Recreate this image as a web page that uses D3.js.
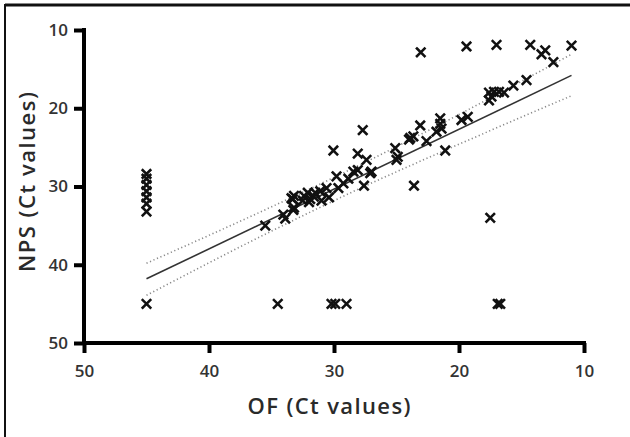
<!DOCTYPE html>
<html><head><meta charset="utf-8">
<script src="https://cdn.jsdelivr.net/npm/d3@7"></script>
<style>
html,body{margin:0;padding:0;background:#fff;}
svg{display:block;}
text{font-family:"Open Sans",sans-serif;}
</style></head>
<body><svg id="c" width="630" height="437"></svg>
<script>
// Scatter points: OF Ct (x) and NPS Ct (y)
const ofCt = [
 45,45,45,45,45,45,45, 45,
 34.5,30.2,29.9,29.0,16.9,16.7,
 17.5,23.6,27.6,21.1,30.05,27.7,
 23.06,19.4,17.0,14.3,13.4,13.1,12.45,11.0,14.6,15.65,
 17.6,17.2,16.8,16.4,17.6,17.4,
 19.3,19.8,21.5,21.5,21.4,21.8,23.1,23.65,24.0,22.6,23.9,
 25.1,24.9,25.0,28.1,27.4,
 28.45,28.1,27.0,27.1,28.85,29.8,29.25,29.65,
 30.6,31.1,31.5,32.1,32.4,32.5,31.9,33.2,33.2,33.3,30.4,31.0,32.0,31.6,
 35.5,34.05,33.9,33.25,33.4
];
const npsCt = [
 28.4,29.0,29.8,30.6,31.4,32.2,33.2, 45,
 45,45,45,45,45,45,
 34.0,29.9,29.9,25.4,25.4,22.8,
 12.85,12.1,11.9,11.9,13.1,12.6,14.1,12.0,16.4,17.1,
 18.0,17.9,17.9,18.0,19.0,18.5,
 21.1,21.5,21.3,22.0,22.6,23.0,22.2,23.6,24.0,24.2,23.8,
 25.1,26.2,26.6,25.8,26.6,
 28.1,27.9,28.1,28.3,29.0,28.7,29.6,30.2,
 30.2,30.6,30.8,30.8,31.2,31.8,31.6,31.2,32.7,31.6,31.4,31.8,32.0,31.3,
 35.0,33.6,34.1,33.0,31.5
];
// Linear fit and band values read at a few OF positions
const fitX = [45, 11];
const fitY = [41.8, 15.8];
const bandX = [45, 35, 28, 20, 11];
const bandUpper = [39.8, 32.6, 27.3, 20.8, 13.1];
const bandLower = [43.9, 35.7, 30.3, 24.6, 18.4];
const xTicks = [50, 40, 30, 20, 10];
const yTicks = [10, 20, 30, 40, 50];

const svg = d3.select("#c");
// frame (top and left edges visible)
svg.append("rect").attr("x",5).attr("y",5).attr("width",640).attr("height",450)
  .attr("fill","none").attr("stroke","#111").attr("stroke-width",2);
svg.append("line").attr("x1",5).attr("x2",630).attr("y1",5).attr("y2",5)
  .attr("stroke","#111").attr("stroke-width",3);

const x = d3.scaleLinear().domain([50,10]).range([84,584]);
const y = d3.scaleLinear().domain([10,50]).range([30,343]);

// bands
const bandLine = (arr) => d3.line().x((d,i)=>x(bandX[i])).y((d,i)=>y(arr[i])).curve(d3.curveMonotoneX)(arr);
[bandUpper, bandLower].forEach(arr=>{
  svg.append("path").attr("d", bandLine(arr)).attr("fill","none")
    .attr("stroke","#8a8a8a").attr("stroke-width",1.6).attr("stroke-dasharray","1.2,2.6");
});
// fit line
svg.append("path").attr("d", d3.line().x((d,i)=>x(fitX[i])).y((d,i)=>y(fitY[i]))(fitY))
  .attr("fill","none").attr("stroke","#333").attr("stroke-width",1.6);

// points as crosses
const s = 3.8;
const pts = svg.append("g");
ofCt.forEach((v,i)=>{
  const cx = x(v), cy = y(npsCt[i]);
  pts.append("path").attr("d",`M${cx-s},${cy-s}L${cx+s},${cy+s}M${cx-s},${cy+s}L${cx+s},${cy-s}`)
    .attr("stroke","#111").attr("stroke-width",2.6).attr("stroke-linecap","square");
});

// axes
const styleAxis = g => {
  g.select(".domain").attr("stroke","#000").attr("stroke-width",4);
  g.selectAll(".tick line").attr("stroke","#000").attr("stroke-width",4);
  g.selectAll(".tick text").attr("fill","#333").style("font-size","17px").style("font-weight","600")
    .style("font-family","'Open Sans',sans-serif");
};
const xa = svg.append("g").attr("transform","translate(0,343)")
  .call(d3.axisBottom(x).tickValues(xTicks).tickSize(10).tickSizeOuter(0).tickPadding(12));
styleAxis(xa);
xa.select(".domain").attr("d", `M${x(50)-2},0H${x(10)+2}`);
const ya = svg.append("g").attr("transform","translate(84,0)")
  .call(d3.axisLeft(y).tickValues(yTicks).tickSize(10).tickSizeOuter(0).tickPadding(6));
styleAxis(ya);
ya.select(".domain").attr("d", `M0,${y(10)-2}V${y(50)+2}`);

// titles
svg.append("text").attr("x",329).attr("y",414).attr("text-anchor","middle")
  .attr("fill","#2a2a2a").style("font-size","22px").style("font-weight","600")
  .attr("textLength",163).attr("lengthAdjust","spacing").text("OF (Ct values)");
svg.append("text").attr("transform","translate(35,182) rotate(-90)").attr("text-anchor","middle")
  .attr("fill","#2a2a2a").style("font-size","22px").style("font-weight","600")
  .attr("textLength",180).attr("lengthAdjust","spacing").text("NPS (Ct values)");
</script></body></html>
